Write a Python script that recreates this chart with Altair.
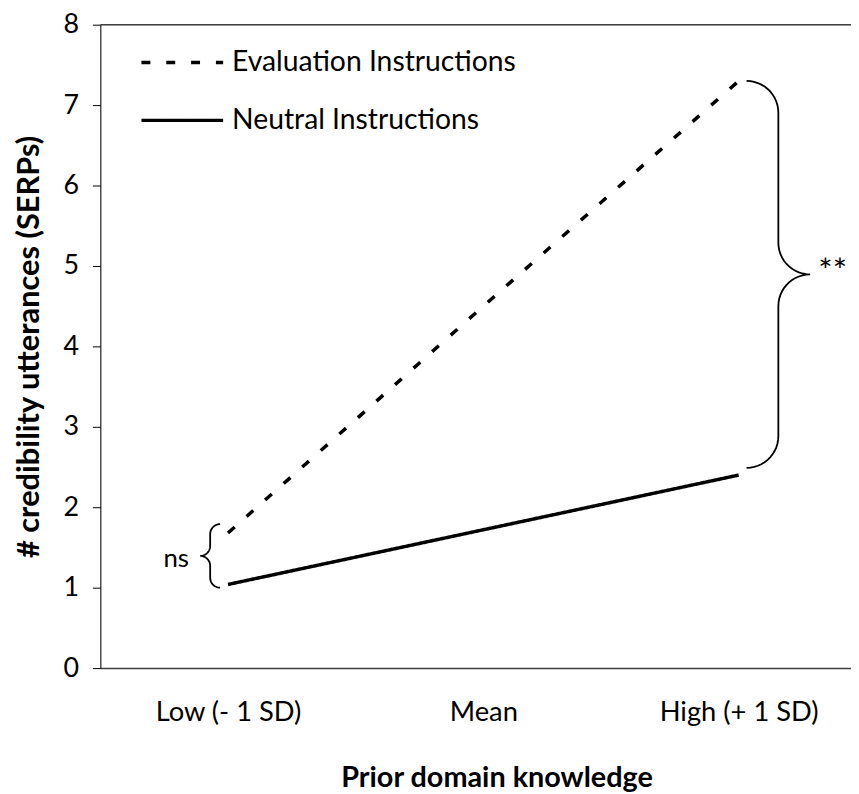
import altair as alt
import pandas as pd
import numpy as np

# ---------------- data ----------------
categories = ["Low (- 1 SD)", "Mean", "High (+ 1 SD)"]
cat_pos = [1, 2, 3]
series_names = ["Evaluation Instructions", "Neutral Instructions"]
evaluation = [1.68, 4.50, 7.30]
neutral = [1.04, 1.72, 2.40]

y_ticks = [0, 1, 2, 3, 4, 5, 6, 7, 8]
x_domain = [0.5, 3.44]
y_domain = [0, 8]

# annotations (braces + significance labels)
brace_names = ["ns", "**"]
brace_end_x = [0.969, 3.031]
brace_lo = [1.0, 2.49]
brace_hi = [1.79, 7.30]
brace_dir = [-1, 1]
brace_r_px = [10, 32]
brace_text_x = [0.747, 3.312]
brace_text_y = [1.26, 4.80]
brace_text_size = [26, 34]

# legend placement (data units)
legend_x0 = [0.661, 0.661]
legend_x1 = [0.981, 0.981]
legend_y = [7.53, 6.81]
legend_text_x = [1.016, 1.016]

W, H = 756, 648
FONT = "Lato"
kx = W / (x_domain[1] - x_domain[0])
ky = H / (y_domain[1] - y_domain[0])

# ---------------- tables ----------------
lines_df = pd.DataFrame({
    "x": cat_pos * 2,
    "y": evaluation + neutral,
    "series": [series_names[0]] * 3 + [series_names[1]] * 3,
})

def brace_points(x_end, lo, hi, d, r, n=14):
    Yb = (hi - lo) * ky
    Ym = Yb / 2
    pts = []
    t = np.linspace(0, np.pi / 2, n)
    for tt in t:
        pts.append((d * r * np.sin(tt), r - r * np.cos(tt)))
    pts.append((d * r, Ym - r))
    for tt in t:
        pts.append((2 * d * r - d * r * np.cos(tt), Ym - r + r * np.sin(tt)))
    for tt in t[::-1]:
        pts.append((2 * d * r - d * r * np.cos(tt), Ym + r - r * np.sin(tt)))
    pts.append((d * r, Yb - r))
    for tt in t[::-1]:
        pts.append((d * r * np.sin(tt), Yb - r + r * np.cos(tt)))
    return [(x_end + dx / kx, hi - dy / ky) for dx, dy in pts]

rows = []
for name, xe, lo, hi, d, r in zip(brace_names, brace_end_x, brace_lo, brace_hi, brace_dir, brace_r_px):
    for i, (bx, by) in enumerate(brace_points(xe, lo, hi, d, r)):
        rows.append({"brace": name, "i": i, "x": bx, "y": by})
brace_df = pd.DataFrame(rows)

brace_text_df = pd.DataFrame({"x": brace_text_x, "y": brace_text_y, "t": brace_names,
                              "s": brace_text_size})

legend_df = pd.DataFrame({
    "x0": legend_x0, "x1": legend_x1, "y": legend_y,
    "tx": legend_text_x, "series": series_names,
})

frame_df = pd.DataFrame({"x0": [x_domain[0]], "x1": [x_domain[1]], "y": [y_domain[1]]})

# ---------------- chart ----------------
label_expr = " : ".join(
    f"datum.value == {p} ? '{c}'" for p, c in zip(cat_pos[:-1], categories[:-1])
) + f" : '{categories[-1]}'"

x_scale = alt.Scale(domain=x_domain, nice=False, zero=False)
y_scale = alt.Scale(domain=y_domain, nice=False)
dash_scale = alt.Scale(domain=series_names, range=[[9, 16], [1, 0]])

x_enc = alt.X(
    "x:Q", scale=x_scale,
    axis=alt.Axis(
        title="Prior domain knowledge", values=cat_pos, labelExpr=label_expr,
        ticks=False, grid=False, domainColor="#404040", domainWidth=1.5,
        labelFontSize=27.5, labelFont=FONT, labelColor="black", labelPadding=31,
        labelBaseline="top",
        titleFontSize=29, titleFont=FONT, titleFontWeight="bold", titleColor="black",
        titlePadding=38, titleX=399,
    ),
)
y_enc = alt.Y(
    "y:Q", scale=y_scale,
    axis=alt.Axis(
        title="# credibility utterances (SERPs)", values=y_ticks, format="d",
        grid=False, domainColor="black", domainWidth=1, tickColor="black",
        tickSize=8, labelFontSize=27, labelFont=FONT, labelColor="black",
        labelPadding=14, titleFontSize=31, titleFont=FONT, titleFontWeight="bold",
        titleColor="black", titlePadding=18,
    ),
)

lines = alt.Chart(lines_df).mark_line(color="black", strokeWidth=3.5, strokeCap="butt").encode(
    x=x_enc, y=y_enc,
    strokeDash=alt.StrokeDash("series:N", scale=dash_scale, legend=None),
)

frame = alt.Chart(frame_df).mark_rule(color="#404040", strokeWidth=1.5).encode(
    x="x0:Q", x2="x1:Q", y="y:Q",
)

braces = alt.Chart(brace_df).mark_line(color="black", strokeWidth=1.8).encode(
    x="x:Q", y="y:Q", detail="brace:N", order="i:Q",
)

brace_text = alt.Chart(brace_text_df).mark_text(
    align="left", baseline="alphabetic", font=FONT, color="black"
).encode(x="x:Q", y="y:Q", text="t:N", size=alt.Size("s:Q", scale=None, legend=None))

legend_lines = alt.Chart(legend_df).mark_rule(color="black", strokeWidth=3.5, strokeCap="butt").encode(
    x="x0:Q", x2="x1:Q", y="y:Q",
    strokeDash=alt.StrokeDash("series:N", scale=dash_scale, legend=None),
)
legend_text = alt.Chart(legend_df).mark_text(
    align="left", baseline="middle", fontSize=28.5, font=FONT, color="black"
).encode(x="tx:Q", y="y:Q", text="series:N")

chart = alt.layer(lines, frame, braces, brace_text, legend_lines, legend_text).properties(
    width=W, height=H,
    padding={"left": 93, "top": 14, "right": 0, "bottom": 124},
    autosize=alt.AutoSizeParams(type="none"),
).configure_view(stroke=None).configure(font=FONT)

chart.save("out.html", embed_options={"renderer": "svg", "actions": False})
